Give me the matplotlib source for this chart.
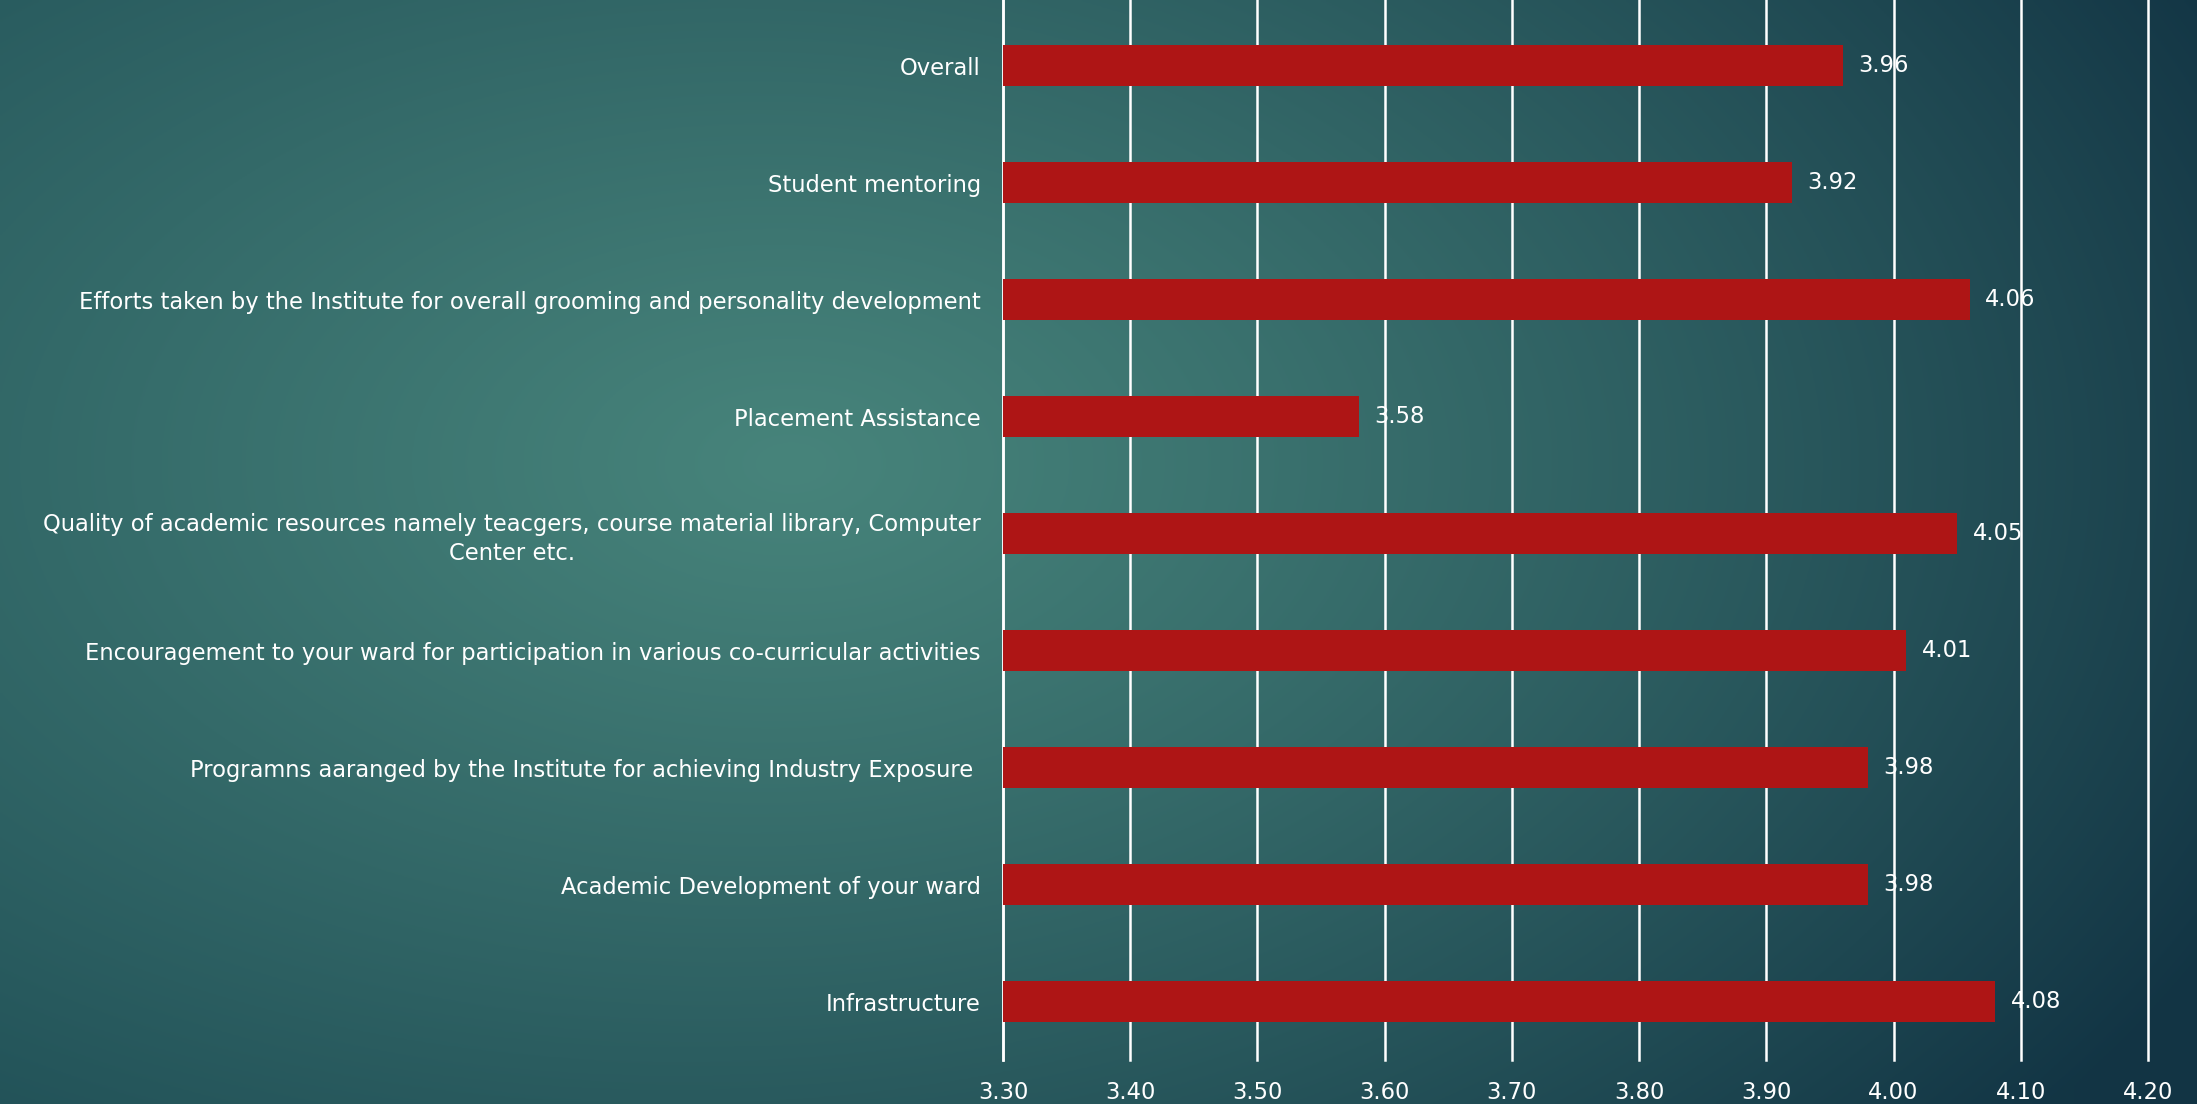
"""Parent feedback averages as horizontal bars on a teal slide background."""
import numpy as np
import matplotlib
matplotlib.use("Agg")
import matplotlib.pyplot as plt
from matplotlib.colors import to_rgb

categories = [
    "Overall",
    "Student mentoring",
    "Efforts taken by the Institute for overall grooming and personality development",
    "Placement Assistance",
    "Quality of academic resources namely teacgers, course material library, Computer\nCenter etc.",
    "Encouragement to your ward for participation in various co-curricular activities",
    "Programns aaranged by the Institute for achieving Industry Exposure ",
    "Academic Development of your ward",
    "Infrastructure",
]
scores = [3.96, 3.92, 4.06, 3.58, 4.05, 4.01, 3.98, 3.98, 4.08]
xticks = [3.30, 3.40, 3.50, 3.60, 3.70, 3.80, 3.90, 4.00, 4.10, 4.20]

W, H = 2197, 1104
fig = plt.figure(figsize=(W / 100, H / 100), dpi=100)
plt.rcParams["font.family"] = ["DejaVu Sans"]
FS = 16.3

# background: soft radial glow, darker towards the edges
bg = fig.add_axes([0, 0, 1, 1], zorder=-10)
yy, xx = np.mgrid[0:1:400j, 0:1:800j]
r = np.sqrt(((xx - 0.36) / 0.75) ** 2 + ((yy - 0.42) / 0.9) ** 2)
t = np.clip(r, 0, 1)[..., None] ** 1.1
centre = np.array(to_rgb("#47847b"))
left_edge = np.array(to_rgb("#194650"))
right_edge = np.array(to_rgb("#123444"))
edge = left_edge + (right_edge - left_edge) * xx[..., None]
img = centre * (1 - t) + edge * t
bg.imshow(img, aspect="auto", extent=[0, 1, 0, 1], origin="upper")
bg.set_axis_off()

# plot area
x0, x1 = 1003 / W, 2148 / W
ax = fig.add_axes([x0, 1 - 1060 / H, x1 - x0, 1060 / H])
ax.patch.set_alpha(0)

pos = np.arange(len(categories))[::-1]
ax.barh(pos, scores, height=0.35, color="#ae1515", zorder=3)
for p, v in zip(pos, scores):
    ax.annotate(f"{v:.2f}", xy=(v, p), xytext=(11, 0), textcoords="offset points",
                va="center", ha="left", color="white", fontsize=FS, zorder=4)

ax.set_xlim(3.30, 4.20)
ax.set_ylim(-0.5, 8.56)
ax.set_xticks(xticks)
ax.set_xticklabels([f"{v:.2f}" for v in xticks])
ax.set_yticks(pos)
ax.set_yticklabels(categories, multialignment="center", linespacing=1.35)
ax.grid(axis="x", color="white", linewidth=1.8, zorder=1)
for line in ax.get_xgridlines():
    line.set_clip_on(False)
ax.tick_params(axis="x", length=0, pad=15, colors="white", labelsize=FS)
ax.tick_params(axis="y", length=0, pad=16, colors="white", labelsize=FS)
for s in ["top", "right", "bottom"]:
    ax.spines[s].set_visible(False)
ax.spines["left"].set_color("white")
ax.spines["left"].set_linewidth(1.8)

fig.savefig("out.png", dpi=100)
